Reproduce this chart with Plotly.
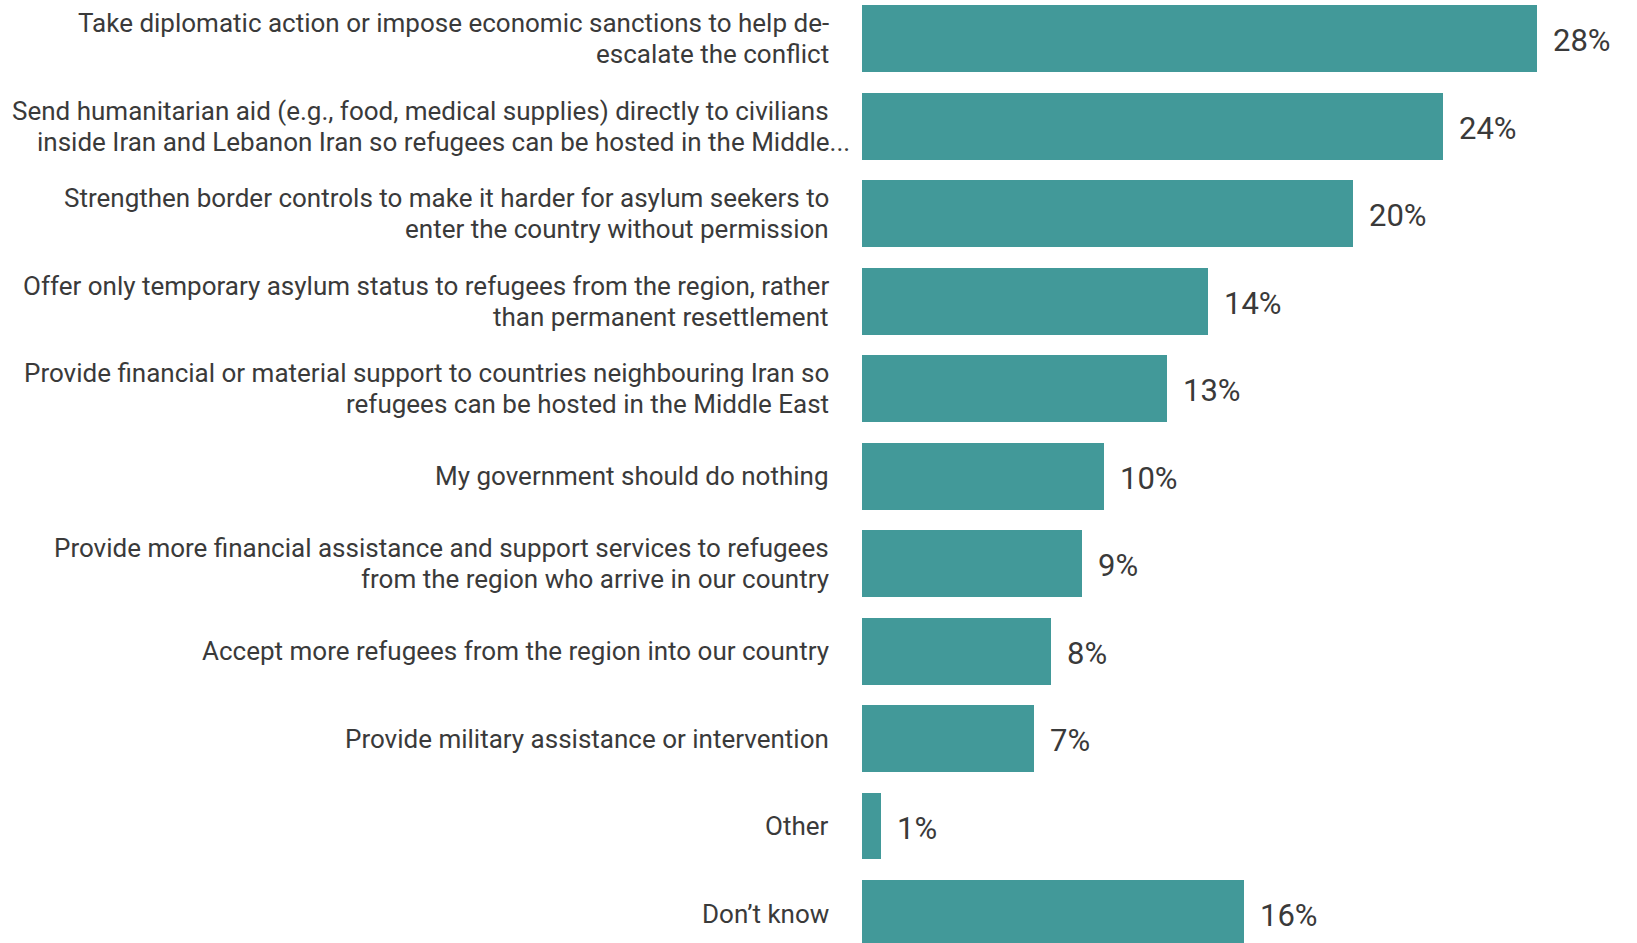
import plotly.graph_objects as go

categories = [
    "Take diplomatic action or impose economic sanctions to help de-<br>escalate the conflict",
    "Send humanitarian aid (e.g., food, medical supplies) directly to civilians<br>inside Iran and Lebanon Iran so refugees can be hosted in the Middle...",
    "Strengthen border controls to make it harder for asylum seekers to<br>enter the country without permission",
    "Offer only temporary asylum status to refugees from the region, rather<br>than permanent resettlement",
    "Provide financial or material support to countries neighbouring Iran so<br>refugees can be hosted in the Middle East",
    "My government should do nothing",
    "Provide more financial assistance and support services to refugees<br>from the region who arrive in our country",
    "Accept more refugees from the region into our country",
    "Provide military assistance or intervention",
    "Other",
    "Don\u2019t know",
]
values = [27.9, 24.0, 20.3, 14.3, 12.6, 10.0, 9.1, 7.8, 7.1, 0.8, 15.8]
value_labels = ["28%", "24%", "20%", "14%", "13%", "10%", "9%", "8%", "7%", "1%", "16%"]

BAR_COLOR = "#429999"
TEXT_COLOR = "#3a3a3a"
FONT = "Roboto"

idx = list(range(len(categories)))

fig = go.Figure()
fig.add_trace(go.Bar(
    x=values, y=idx, orientation="h",
    marker=dict(color=BAR_COLOR, line=dict(width=0)),
    width=0.765, hoverinfo="skip",
))

annotations = []
for i, (cat, lab, v) in enumerate(zip(categories, value_labels, values)):
    lines = cat.split("<br>")
    n = len(lines)
    for j, line in enumerate(lines):
        yshift = (n - 1) / 2 * 31 - j * 31
        xs = -31
        if line.endswith("..."):
            xs = -10
        annotations.append(dict(
            x=0, xref="paper", y=i, yref="y", text=line, showarrow=False,
            xanchor="right", yanchor="middle", xshift=xs, yshift=yshift,
            font=dict(family=FONT, size=26, color=TEXT_COLOR),
        ))
    annotations.append(dict(
        x=v, xref="x", y=i, yref="y", text=lab, showarrow=False,
        xanchor="left", yanchor="middle", xshift=14, yshift=-2,
        font=dict(family=FONT, size=31, color=TEXT_COLOR),
    ))

fig.update_layout(
    width=1637, height=943,
    margin=dict(l=862, r=0, t=0, b=0),
    paper_bgcolor="white", plot_bgcolor="white",
    showlegend=False,
    annotations=annotations,
    xaxis=dict(range=[0, 775 / 24.2], visible=False, fixedrange=True),
    yaxis=dict(range=[10.337, -0.441], visible=False, fixedrange=True),
    bargap=0,
)

fig.write_html("out.html", config={"displayModeBar": False})
